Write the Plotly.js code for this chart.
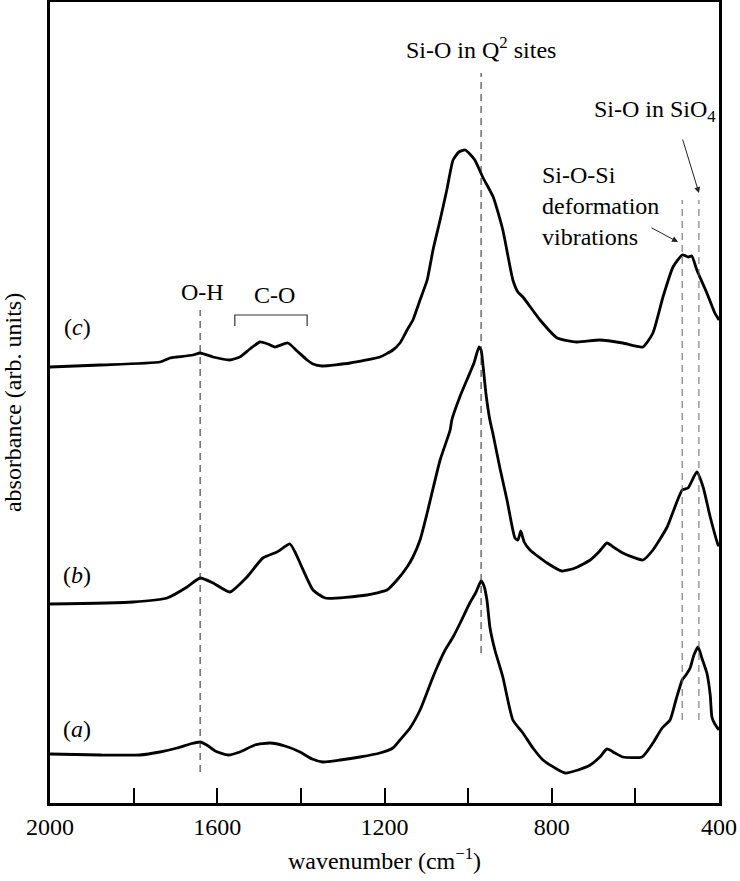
<!DOCTYPE html>
<html>
<head>
<meta charset="utf-8">
<script src="https://cdn.plot.ly/plotly-3.0.1.min.js"></script>
<style>html,body{margin:0;padding:0;background:#fff}#chart{width:740px;height:881px}</style>
</head>
<body>
<div id="chart"></div>
<script>
// wavenumbers (cm^-1) and absorbance (arb. units, offset per spectrum)
const wnA = [2000,1880,1785,1737,1696,1665,1641,1625,1605,1574,1546,1510,1474,1438,1402,1373,1347,1306,1259,1211,1180,1163,1139,1115,1096,1084,1074,1055,1036,1019,996,981,969,962,955,948,936,917,893,869,845,821,792,768,737,708,685,668,649,630,584,558,536,517,503,488,479,469,460,450,441,429,421,417,410,400];
const absA = [49,48,48,51,55,59,61,58,52,48,51,58,60,57,51,44,41,43,46,50,55,63,75,93,113,126,136,153,166,180,200,211,222,217,203,176,153,126,83,70,55,43,35,30,33,38,46,54,50,46,46,60,75,83,103,123,128,135,148,156,145,130,108,86,79,73];

const wnB = [2000,1802,1720,1672,1641,1610,1570,1529,1491,1457,1426,1414,1402,1371,1342,1242,1194,1170,1146,1132,1115,1098,1067,1043,1039,1019,1003,986,974,969,964,957,948,941,924,907,888,881,874,866,852,811,776,744,708,685,668,649,630,582,558,524,488,474,453,438,421,402,400];
const absB = [199,201,205,216,225,220,211,226,245,251,259,251,240,213,205,208,213,223,236,246,263,290,343,373,383,407,423,440,456,453,436,408,383,370,335,303,265,263,272,261,253,240,232,235,243,252,260,255,250,243,253,276,313,315,331,316,286,258,257];

const wnC = [2000,1880,1737,1713,1696,1658,1641,1610,1570,1546,1522,1498,1479,1462,1431,1409,1385,1371,1349,1282,1211,1180,1163,1146,1132,1115,1098,1084,1067,1051,1036,1022,1007,996,984,964,940,917,893,881,869,828,787,740,685,630,582,558,534,510,488,479,474,465,453,429,410,400];
const absC = [436,438,441,445,446,448,450,446,443,446,454,461,459,456,460,452,443,439,437,440,446,453,460,473,483,503,523,553,583,613,643,651,653,649,643,625,606,573,523,511,506,483,465,461,463,460,456,470,506,536,548,547,546,547,533,510,490,483];

const tickVals = [2000,1600,1200,800,400];
const tickText = ['2000','1600','1200','800','400'];
const minorTickVals = [1800,1400,1000,600];

const FONT = '"Liberation Serif", "Times New Roman", serif';
const line = {color:'#000', width:2.8, shape:'spline', smoothing:0.5};

const traces = [
  {x:wnA, y:absA, mode:'lines', line:line, name:'(a)', showlegend:false, hoverinfo:'skip'},
  {x:wnB, y:absB, mode:'lines', line:line, name:'(b)', showlegend:false, hoverinfo:'skip'},
  {x:wnC, y:absC, mode:'lines', line:line, name:'(c)', showlegend:false, hoverinfo:'skip'}
];

const dashDark = {color:'#222', width:1, dash:'7px,5px'};
const dashGrey = {color:'#666', width:1, dash:'7px,5px'};

const layout = {
  width:740, height:881,
  margin:{l:50, r:21, t:2, b:78},
  paper_bgcolor:'#fff', plot_bgcolor:'#fff',
  font:{family:FONT, size:24, color:'#000'},
  showlegend:false,
  xaxis:{
    range:[2000,400], tickmode:'array', tickvals:tickVals, ticktext:tickText,
    ticks:'inside', ticklen:15, tickwidth:2, tickcolor:'#000',
    minor:{tickmode:'array', tickvals:minorTickVals, ticks:'inside', ticklen:15, tickwidth:2, tickcolor:'#000', showgrid:false},
    showline:true, mirror:true, linewidth:3, linecolor:'#000',
    showgrid:false, zeroline:false,
    tickfont:{family:FONT, size:24, color:'#000'},
    title:{text:'wavenumber (cm<sup>−1</sup>)', font:{family:FONT, size:24, color:'#000'}, standoff:14}
  },
  yaxis:{
    range:[0,801], showticklabels:false, ticks:'',
    showline:true, mirror:true, linewidth:3, linecolor:'#000',
    showgrid:false, zeroline:false,
    title:{text:'absorbance (arb. units)', font:{family:FONT, size:24, color:'#000'}, standoff:19}
  },
  shapes:[
    {type:'line', xref:'x', yref:'y', x0:1641, x1:1641, y0:31, y1:493, line:dashDark},
    {type:'line', xref:'x', yref:'y', x0:969, x1:969, y0:150, y1:730, line:dashDark},
    {type:'line', xref:'x', yref:'y', x0:488, x1:488, y0:83, y1:603, line:dashGrey},
    {type:'line', xref:'x', yref:'y', x0:448, x1:448, y0:83, y1:603, line:dashGrey},
    {type:'path', xref:'x', yref:'y', path:'M1558,477 L1558,488 L1385,488 L1385,477', line:{color:'#333', width:1.2}}
  ],
  annotations:[
    {xref:'x', yref:'y', x:969, y:755, text:'Si-O in Q<sup>2</sup> sites', showarrow:false, font:{family:FONT, size:24}},
    {xref:'x', yref:'y', x:553, y:692, text:'Si-O in SiO<sub>4</sub>', showarrow:false, font:{family:FONT, size:24}},
    {xref:'x', yref:'y', x:828, y:597, text:'Si-O-Si<br>deformation<br>vibrations', align:'left', xanchor:'left', showarrow:false, font:{family:FONT, size:24}},
    {xref:'x', yref:'y', x:1636, y:511, text:'O-H', showarrow:false, font:{family:FONT, size:24}},
    {xref:'x', yref:'y', x:1462, y:508, text:'C-O', showarrow:false, font:{family:FONT, size:24}},
    {xref:'x', yref:'y', x:1935, y:476, text:'(<i>c</i>)', showarrow:false, font:{family:FONT, size:24}},
    {xref:'x', yref:'y', x:1935, y:228, text:'(<i>b</i>)', showarrow:false, font:{family:FONT, size:24}},
    {xref:'x', yref:'y', x:1935, y:74, text:'(<i>a</i>)', showarrow:false, font:{family:FONT, size:24}},
    {xref:'x', yref:'y', axref:'x', ayref:'y', x:448, y:610, ax:488, ay:665, text:'', showarrow:true, arrowhead:2, arrowsize:1.2, arrowwidth:1, arrowcolor:'#222'},
    {xref:'x', yref:'y', axref:'x', ayref:'y', x:498, y:561, ax:565, ay:576, text:'', showarrow:true, arrowhead:2, arrowsize:1.2, arrowwidth:1, arrowcolor:'#222'}
  ]
};

Plotly.newPlot('chart', traces, layout, {staticPlot:true, displayModeBar:false});
</script>
</body>
</html>
